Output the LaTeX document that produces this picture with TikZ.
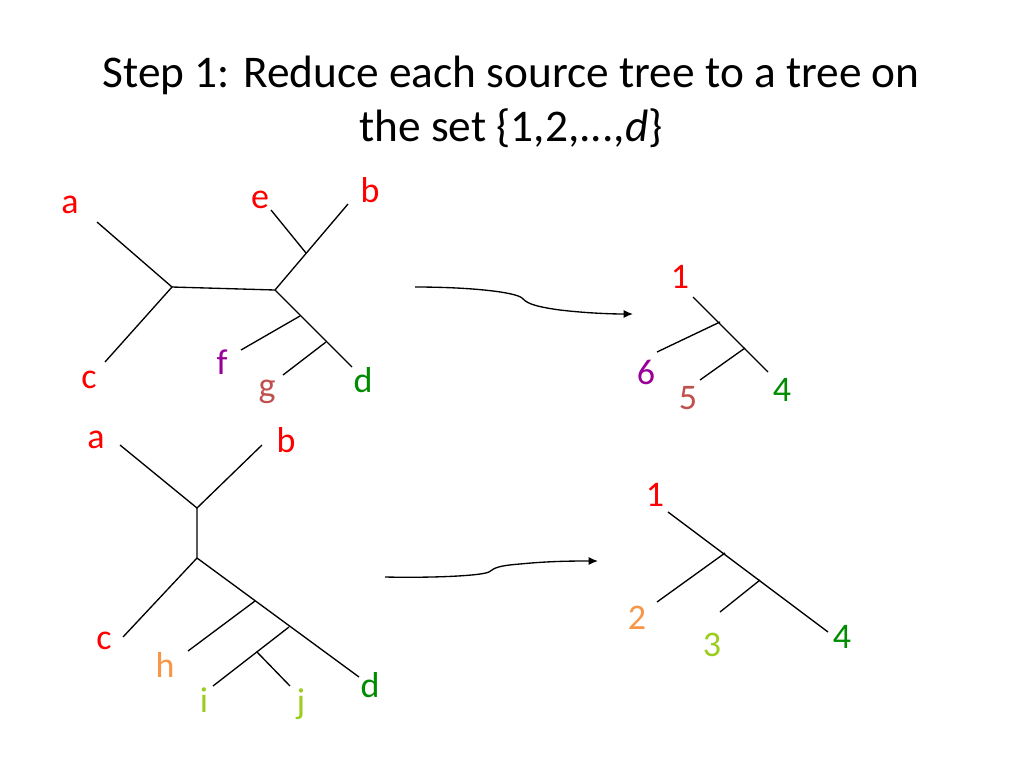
\documentclass[tikz,border=0pt]{standalone}
\usepackage{fontspec}
\setmainfont{Carlito}
\usetikzlibrary{arrows.meta}
\definecolor{lred}{RGB}{255,0,0}
\definecolor{lpur}{RGB}{153,0,153}
\definecolor{lbrn}{RGB}{192,80,77}
\definecolor{lgrn}{RGB}{0,140,0}
\definecolor{lorg}{RGB}{247,150,70}
\definecolor{llim}{RGB}{154,205,30}
\begin{document}
\begin{tikzpicture}[x=0.75pt,y=-0.75pt,
  edge/.style={line width=1pt},
  lab/.style={font=\fontsize{27}{27}\selectfont,inner sep=0pt},
  arr/.style={line width=1pt,-{Latex[length=7pt,width=6pt]}}]
\useasboundingbox (0,0) rectangle (1024,768);
\node[font=\fontsize{34}{40}\selectfont,align=center] (title) at (511,102) {Step 1: Reduce each source tree to a tree on\\the set \{1,2,...,\textit{d}\}};
% tree 1
\node[lab,text=lred] (a1) at (70,205) {a};
\node[lab,text=lred] (e1) at (260,200) {e};
\node[lab,text=lred] (b1) at (370,190) {b};
\node[lab,text=lred] (c1) at (89,380) {c};
\node[lab,text=lpur] (f1) at (222,362) {f};
\node[lab,text=lbrn] (g1) at (267,392) {g};
\node[lab,text=lgrn] (d1) at (363,380) {d};
\coordinate (u1) at (172,287);
\coordinate (v1) at (275,290);
\coordinate (w1) at (306,253);
\coordinate (x1) at (300,316);
\coordinate (y1) at (326,342);
\draw[edge] (97,222) -- (u1) -- (105,362);
\draw[edge] (u1) -- (v1) -- (348,204);
\draw[edge] (w1) -- (271,210);
\draw[edge] (v1) -- (352,367);
\draw[edge] (x1) -- (241,350);
\draw[edge] (y1) -- (283,375);
% arrow 1
\coordinate (s1) at (415,287);
\coordinate (t1) at (633,314);
\draw[arr] (s1) .. controls (470,287) and (515,292) .. (522,298) .. controls (526,302) and (530,306) .. (560,310) .. controls (585,313) and (610,314) .. (t1);
% right tree 1
\node[lab,text=lred] (n1) at (680,277) {1};
\node[lab,text=lpur] (n6) at (646,372) {6};
\node[lab,text=lbrn] (n5) at (688,398) {5};
\node[lab,text=lgrn] (n4) at (782,390) {4};
\coordinate (p1) at (720,322);
\coordinate (q1) at (745,348);
\draw[edge] (693,297) -- (768,372);
\draw[edge] (p1) -- (657,352);
\draw[edge] (q1) -- (700,380);
% tree 2
\node[lab,text=lred] (a2) at (96,440) {a};
\node[lab,text=lred] (b2) at (286,440) {b};
\node[lab,text=lred] (c2) at (104,641) {c};
\node[lab,text=lorg] (h2) at (165,665) {h};
\node[lab,text=llim] (i2) at (204,700) {i};
\node[lab,text=llim] (j2) at (301,704) {j};
\node[lab,text=lgrn] (d2) at (370,685) {d};
\coordinate (u2) at (197,508);
\coordinate (v2) at (197,558);
\coordinate (w2) at (255,601);
\coordinate (x2) at (289,627);
\coordinate (y2) at (257,652);
\draw[edge] (120,445) -- (u2) -- (262,445);
\draw[edge] (u2) -- (v2) -- (123,637);
\draw[edge] (v2) -- (359,677);
\draw[edge] (w2) -- (188,651);
\draw[edge] (x2) -- (213,686);
\draw[edge] (y2) -- (290,686);
% arrow 2
\coordinate (s2) at (385,577);
\coordinate (t2) at (598,561);
\draw[arr] (s2) .. controls (430,578) and (480,576) .. (489,572) .. controls (494,569) and (494,566) .. (520,564) .. controls (550,561) and (575,561) .. (t2);
% right tree 2
\node[lab,text=lred] (m1) at (655,495) {1};
\node[lab,text=lorg] (m2) at (637,618) {2};
\node[lab,text=llim] (m3) at (712,645) {3};
\node[lab,text=lgrn] (m4) at (842,637) {4};
\coordinate (p2) at (725,553);
\coordinate (q2) at (760,580);
\draw[edge] (668,512) -- (828,632);
\draw[edge] (p2) -- (657,602);
\draw[edge] (q2) -- (720,612);
\end{tikzpicture}
\end{document}
